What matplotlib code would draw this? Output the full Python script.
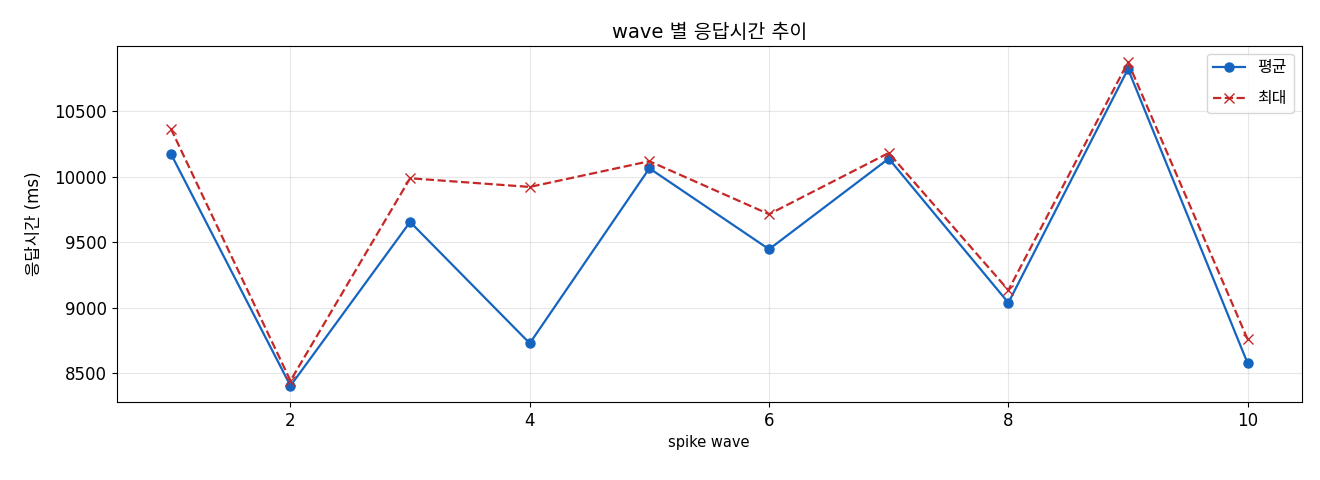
import matplotlib
matplotlib.use("Agg")
import matplotlib.pyplot as plt

plt.rcParams['font.family'] = ['DejaVu Sans', 'Noto Sans CJK KR']
plt.rcParams['axes.unicode_minus'] = False

# 데이터
waves = [1, 2, 3, 4, 5, 6, 7, 8, 9, 10]
avg_ms = [10175, 8405, 9654, 8729, 10063, 9446, 10137, 9038, 10820, 8576]
max_ms = [10366, 8444, 9987, 9921, 10117, 9713, 10180, 9134, 10872, 8759]

fig = plt.figure(figsize=(13.2, 4.8), dpi=100)
ax = fig.add_axes([0.0886, 0.1625, 0.8974, 0.7417])

ax.plot(waves, avg_ms, '-o', color='#1565C0', lw=1.6, ms=6.5, label='평균')
ax.plot(waves, max_ms, '--x', color='#C62828', lw=1.6, ms=7, label='최대')

ax.set_title('wave 별 응답시간 추이', fontsize=14)
ax.set_xlabel('spike wave', fontsize=10.5)
ax.set_ylabel('응답시간 (ms)', fontsize=12, labelpad=8)
ax.tick_params(labelsize=12)
ax.grid(True, alpha=0.3)
ax.legend(loc='upper right', fontsize=11.5, labelspacing=1.0)

fig.savefig('out.png', dpi=100)
